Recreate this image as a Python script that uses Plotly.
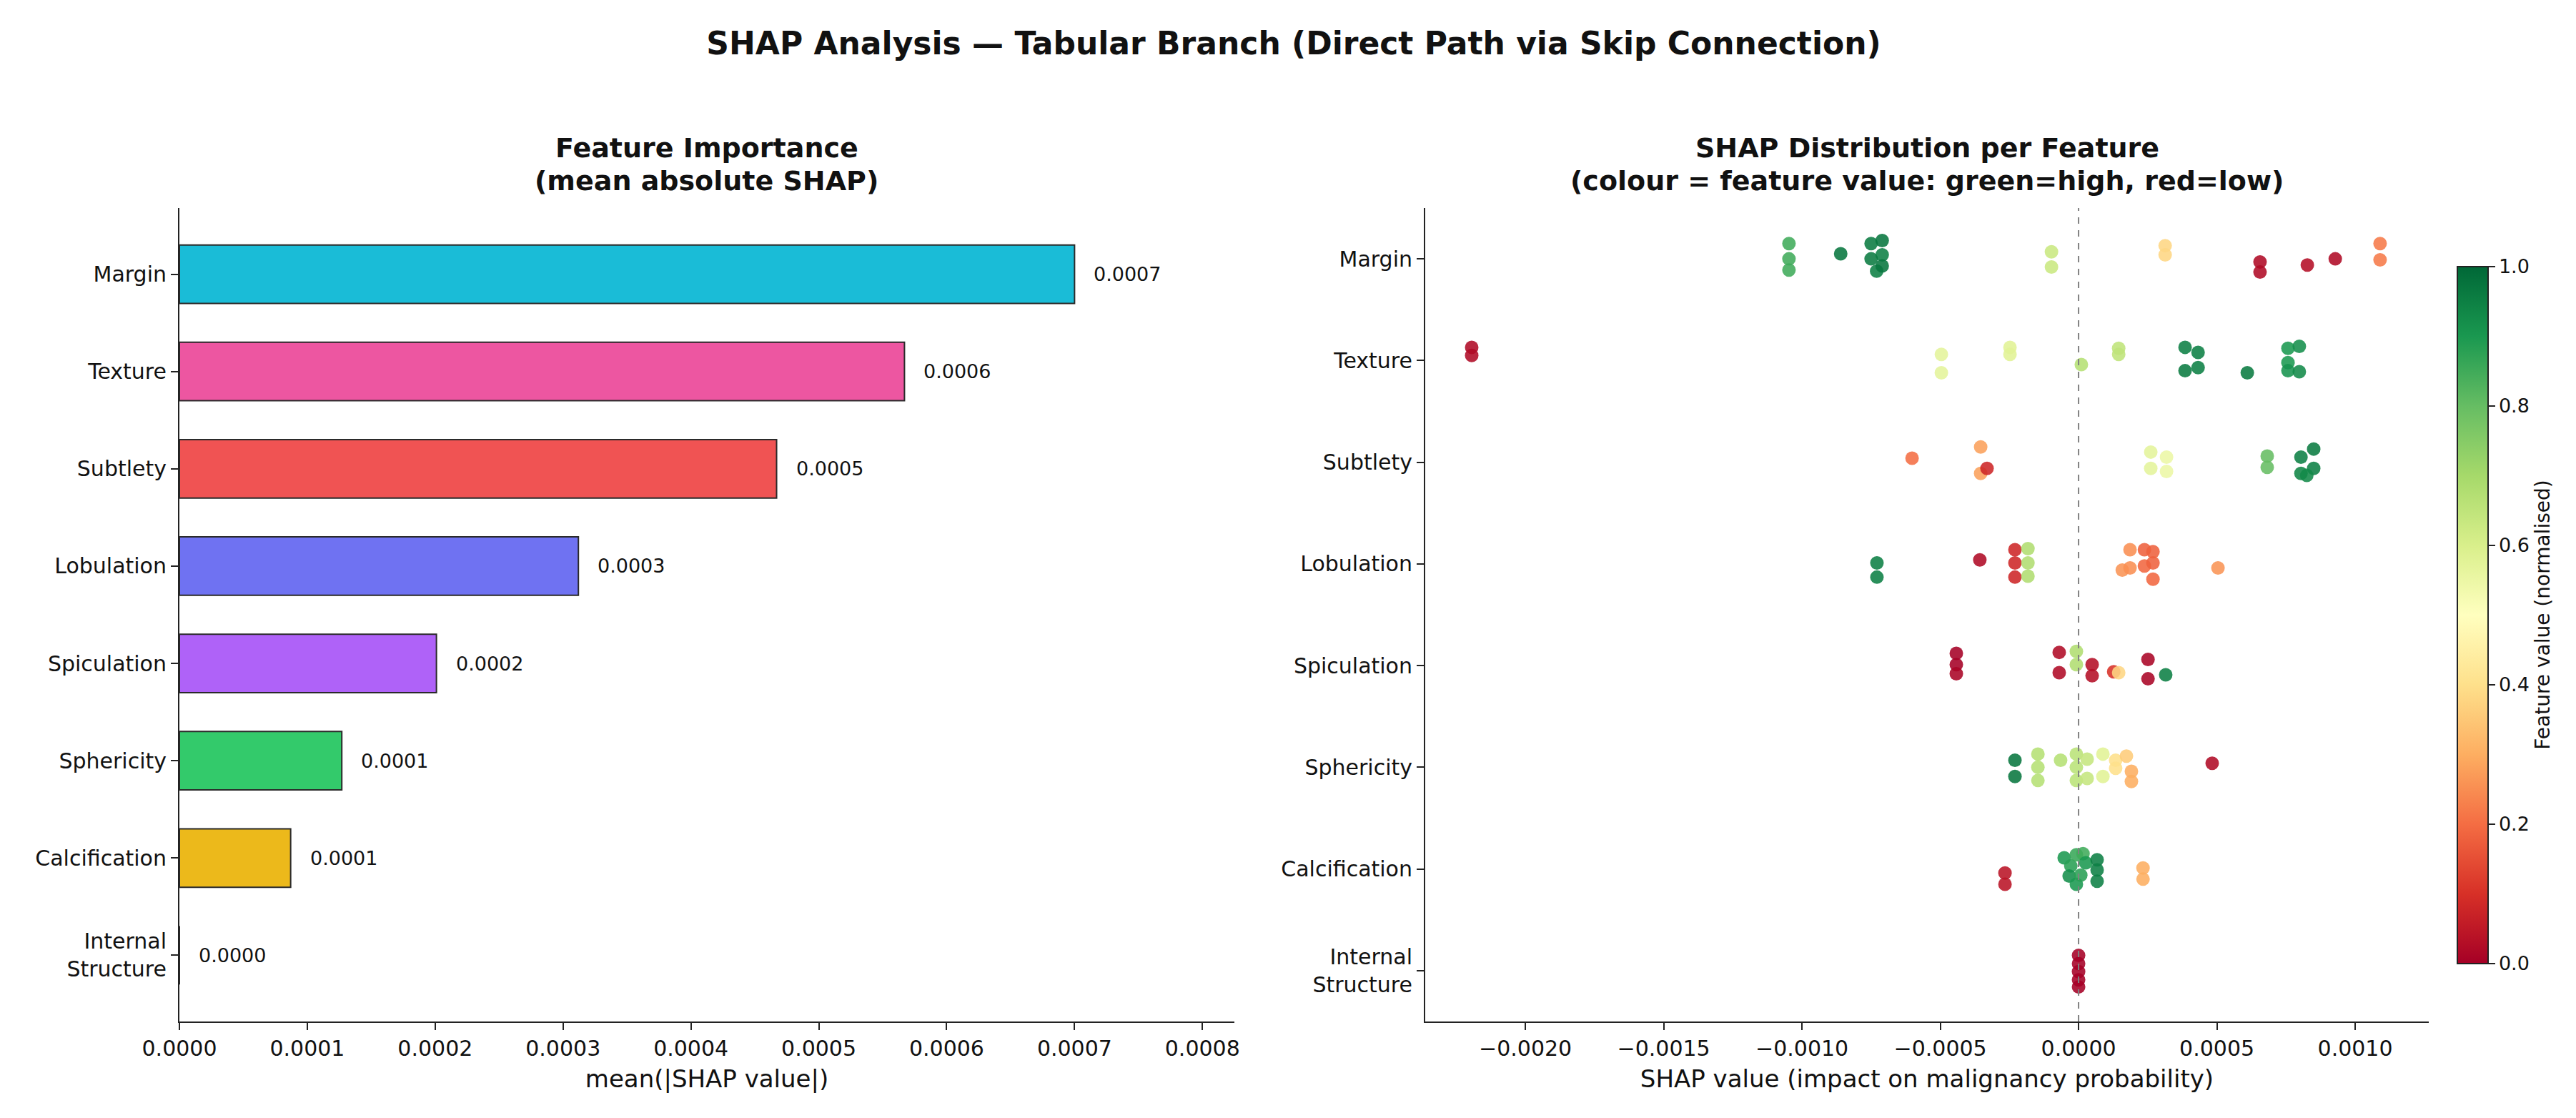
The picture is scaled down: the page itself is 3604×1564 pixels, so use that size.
import plotly.graph_objects as go

features = ["Margin", "Texture", "Subtlety", "Lobulation", "Spiculation",
            "Sphericity", "Calcification", "Internal Structure"]
feature_ticks = ["Margin", "Texture", "Subtlety", "Lobulation", "Spiculation",
                 "Sphericity", "Calcification", "Internal<br>Structure"]

# mean |SHAP| per feature (left panel)
importance = [0.000700, 0.000567, 0.000467, 0.000312, 0.000201, 0.000127, 0.000087, 0.0]
bar_colors = ["rgba(6,182,212,0.92)", "rgba(236,72,153,0.92)", "rgba(239,68,68,0.92)",
              "rgba(99,102,241,0.92)", "rgba(168,85,247,0.92)", "rgba(34,197,94,0.92)",
              "rgba(234,179,8,0.92)", "rgba(100,116,139,0.92)"]

# per-sample SHAP values, normalised feature values and vertical jitter (right panel)
margin_shap = [-0.001047, -0.001047, -0.001047, -0.00086, -0.00075, -0.00071, -0.00071,
               -0.00075, -0.00073, -0.00071, -0.000098, -0.000098, 0.000313, 0.000313,
               0.000656, 0.000656, 0.000827, 0.000928, 0.00109, 0.00109]
margin_fval = [0.85, 0.85, 0.85, 0.97, 0.96, 0.97, 0.95, 0.96, 0.95, 0.97, 0.63, 0.63,
               0.38, 0.38, 0.02, 0.02, 0.03, 0.02, 0.22, 0.22]
margin_jit = [-0.15, 0.0, 0.11, -0.05, -0.15, -0.18, -0.04, 0.0, 0.12, 0.07, -0.07, 0.08,
              -0.13, -0.04, 0.03, 0.13, 0.06, 0.0, -0.15, 0.01]

texture_shap = [-0.002194, -0.002194, -0.000496, -0.000496, -0.000248, -0.000248, 0.00001,
                0.000145, 0.000145, 0.000385, 0.000432, 0.000385, 0.000432, 0.00061,
                0.000757, 0.000757, 0.000757, 0.000798, 0.000798]
texture_fval = [0.02, 0.02, 0.57, 0.57, 0.58, 0.58, 0.67, 0.65, 0.65, 0.95, 0.95, 0.96, 0.95,
                0.96, 0.9, 0.9, 0.91, 0.92, 0.93]
texture_jit = [-0.13, -0.05, -0.06, 0.12, -0.13, -0.06, 0.04, -0.12, -0.06, -0.13, -0.08,
               0.1, 0.07, 0.12, -0.12, 0.02, 0.1, -0.14, 0.11]

subtlety_shap = [-0.000602, -0.000354, -0.000354, -0.000331, 0.000261, 0.000261, 0.000318,
                 0.000318, 0.000682, 0.000682, 0.000804, 0.00085, 0.00085, 0.000804, 0.000825]
subtlety_fval = [0.2, 0.28, 0.28, 0.08, 0.57, 0.57, 0.55, 0.55, 0.8, 0.8, 0.95, 0.96, 0.95,
                 0.94, 0.93]
subtlety_jit = [-0.04, -0.15, 0.11, 0.06, -0.1, 0.06, -0.05, 0.09, -0.06, 0.05, -0.05, -0.13,
                0.06, 0.11, 0.13]

lobulation_shap = [-0.000729, -0.000729, -0.000357, -0.00023, -0.00023, -0.00023, -0.000183,
                   -0.000183, -0.000183, 0.000186, 0.000158, 0.000186, 0.000238, 0.000269,
                   0.000238, 0.000269, 0.000269, 0.000504]
lobulation_fval = [0.95, 0.95, 0.02, 0.08, 0.08, 0.08, 0.68, 0.68, 0.68, 0.25, 0.26, 0.25,
                   0.18, 0.18, 0.19, 0.18, 0.19, 0.26]
lobulation_jit = [-0.01, 0.13, -0.04, -0.14, -0.01, 0.13, -0.15, -0.01, 0.12, -0.14, 0.06,
                  0.04, -0.14, -0.12, 0.02, -0.01, 0.15, 0.04]

spiculation_shap = [-0.000442, -0.000442, -0.000442, -0.00007, -0.00007, -0.000008, -0.000008,
                    0.000049, 0.000049, 0.000127, 0.000145, 0.000251, 0.000251, 0.000315]
spiculation_fval = [0.0, 0.0, 0.01, 0.02, 0.02, 0.68, 0.68, 0.03, 0.03, 0.1, 0.38, 0.01,
                    0.01, 0.95]
spiculation_jit = [-0.12, -0.01, 0.08, -0.13, 0.07, -0.14, -0.01, -0.01, 0.1, 0.06, 0.07,
                   -0.06, 0.13, 0.09]

sphericity_shap = [-0.00023, -0.00023, -0.000147, -0.000147, -0.000147, -0.000065, -0.000008,
                   -0.000008, -0.000008, 0.000031, 0.000031, 0.000088, 0.000088, 0.000134,
                   0.000134, 0.000173, 0.000191, 0.000191, 0.000483]
sphericity_fval = [0.97, 0.97, 0.67, 0.67, 0.67, 0.67, 0.66, 0.66, 0.66, 0.64, 0.64, 0.58,
                   0.58, 0.4, 0.4, 0.36, 0.3, 0.3, 0.02]
sphericity_jit = [-0.07, 0.09, -0.13, 0.0, 0.13, -0.07, -0.13, 0.0, 0.13, -0.08, 0.11, -0.13,
                  0.09, -0.07, 0.01, -0.11, 0.04, 0.14, -0.04]

calcification_shap = [-0.000266, -0.000266, -0.000052, -0.000028, -0.000008, 0.000016,
                      0.000026, -0.000034, -0.000008, 0.000008, 0.000067, 0.000067, 0.000067,
                      0.000233, 0.000233]
calcification_fval = [0.04, 0.04, 0.9, 0.88, 0.86, 0.85, 0.9, 0.92, 0.9, 0.88, 0.95, 0.95,
                      0.95, 0.3, 0.3]
calcification_jit = [0.04, 0.15, -0.11, -0.03, -0.14, -0.15, -0.06, 0.07, 0.15, 0.06, -0.09,
                     0.01, 0.12, -0.01, 0.1]

internal_shap = [0.0, 0.0, 0.0, 0.0, 0.0]
internal_fval = [0.0, 0.0, 0.0, 0.0, 0.0]
internal_jit = [-0.15, -0.07, 0.01, 0.09, 0.16]

left_ticks = [0.0, 0.0001, 0.0002, 0.0003, 0.0004, 0.0005, 0.0006, 0.0007, 0.0008]
right_ticks = [-0.002, -0.0015, -0.001, -0.0005, 0.0, 0.0005, 0.001]
cbar_ticks = [0.0, 0.2, 0.4, 0.6, 0.8, 1.0]

rows = [
    (margin_shap, margin_fval, margin_jit),
    (texture_shap, texture_fval, texture_jit),
    (subtlety_shap, subtlety_fval, subtlety_jit),
    (lobulation_shap, lobulation_fval, lobulation_jit),
    (spiculation_shap, spiculation_fval, spiculation_jit),
    (sphericity_shap, sphericity_fval, sphericity_jit),
    (calcification_shap, calcification_fval, calcification_jit),
    (internal_shap, internal_fval, internal_jit),
]

FONT = "DejaVu Sans"
W, H = 3604, 1564

xs, ys, cs = [], [], []
for i, (sv, fv, jv) in enumerate(rows):
    xs += sv
    cs += fv
    ys += [i + j for j in jv]

fig = go.Figure()

fig.add_trace(go.Bar(
    x=importance, y=list(range(len(features))), orientation="h", width=0.6,
    marker=dict(color=bar_colors, line=dict(color="#2a2a2a", width=2)),
    xaxis="x", yaxis="y", showlegend=False, hoverinfo="skip",
))

fig.add_trace(go.Scatter(
    x=xs, y=ys, mode="markers", xaxis="x2", yaxis="y2", showlegend=False,
    marker=dict(size=19, color=cs, colorscale="RdYlGn", cmin=0, cmax=1, opacity=0.88,
                line=dict(width=0),
                colorbar=dict(
                    x=3420 / W, xanchor="left", y=1 - 852 / H, yanchor="middle",
                    len=995 / H, lenmode="fraction", thickness=43, thicknessmode="pixels",
                    outlinecolor="#222", outlinewidth=2,
                    tickvals=cbar_ticks, tickformat=".1f", ticks="outside", ticklen=9,
                    tickwidth=2, tickcolor="#222",
                    tickfont=dict(family=FONT, size=27, color="#111"),
                    title=dict(text="Feature value (normalised)", side="right",
                               font=dict(family=FONT, size=28, color="#111")),
                )),
))

# value labels next to bars
for i, v in enumerate(importance):
    fig.add_annotation(x=v + 0.000014, y=i, xref="x", yref="y", text=f"{v:.4f}",
                       showarrow=False, xanchor="left", yanchor="middle",
                       font=dict(family=FONT, size=27, color="#111"))

# zero reference line
fig.add_shape(type="line", x0=0, x1=0, y0=0, y1=1, xref="x2", yref="y2 domain",
              line=dict(color="#808080", width=2, dash="dash"))

# panel titles
for xc, l1, l2 in [(981 / W, "Feature Importance", "(mean absolute SHAP)"),
                   (2688 / W, "SHAP Distribution per Feature",
                    "(colour = feature value: green=high, red=low)")]:
    fig.add_annotation(x=xc, y=1 - 199 / H, xref="paper", yref="paper", text=f"<b>{l1}</b>",
                       showarrow=False, xanchor="center", yanchor="middle",
                       font=dict(family=FONT, size=38, color="#111"))
    fig.add_annotation(x=xc, y=1 - 245 / H, xref="paper", yref="paper", text=f"<b>{l2}</b>",
                       showarrow=False, xanchor="center", yanchor="middle",
                       font=dict(family=FONT, size=38, color="#111"))

axis_common = dict(showline=True, linecolor="#222", linewidth=2, ticks="outside", ticklen=10,
                   tickwidth=2, tickcolor="#222", showgrid=False, zeroline=False, mirror=False,
                   automargin=False, tickfont=dict(family=FONT, size=30, color="#111"))

ydom = [1 - 1421 / H, 1 - 283 / H]

fig.update_layout(
    width=W, height=H,
    margin=dict(l=0, r=0, t=0, b=0),
    paper_bgcolor="white", plot_bgcolor="white",
    title=dict(text="<b>SHAP Analysis — Tabular Branch (Direct Path via Skip Connection)</b>",
               x=0.5, xanchor="center", y=1 - 53 / H, yanchor="middle",
               font=dict(family=FONT, size=44, color="#111")),
    xaxis=dict(domain=[243 / W, 1719 / W], range=[0, 0.000825], tickvals=left_ticks,
               tickformat=".4f", anchor="y",
               title=dict(text="mean(|SHAP value|)", standoff=14,
                          font=dict(family=FONT, size=34, color="#111")),
               **axis_common),
    yaxis=dict(domain=ydom, range=[7.68, -0.68], tickvals=list(range(len(features))),
               ticktext=feature_ticks, anchor="x", **axis_common),
    xaxis2=dict(domain=[1986 / W, 3390 / W], range=[-0.002362, 0.001266], tickvals=right_ticks,
                tickformat=".4f", anchor="y2",
                title=dict(text="SHAP value (impact on malignancy probability)", standoff=14,
                           font=dict(family=FONT, size=34, color="#111")),
                **axis_common),
    yaxis2=dict(domain=ydom, range=[7.5, -0.5], tickvals=list(range(len(features))),
                ticktext=feature_ticks, anchor="x2", **axis_common),
)

fig.write_html("out.html")
